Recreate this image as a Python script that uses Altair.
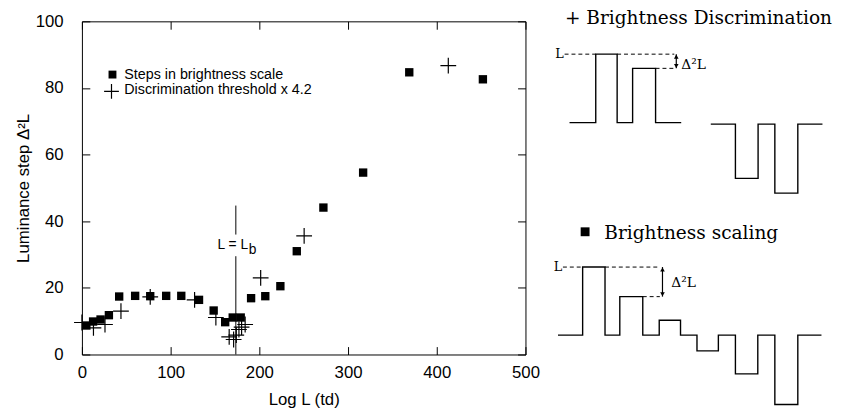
import altair as alt
import pandas as pd

# ---------------- main plot data ----------------
sq_x = [5, 12.6, 21, 30.4, 42, 60, 77, 95, 112, 132, 148.5, 161.5, 170, 179,
        190.7, 206.7, 223.7, 242.2, 272.2, 317, 369, 452]
sq_y = [8.7, 9.9, 10.5, 11.8, 17.4, 17.6, 17.5, 17.6, 17.6, 16.4, 13.2, 9.7,
        11.1, 11.1, 16.9, 17.5, 20.5, 31.0, 44.1, 54.6, 84.7, 82.6]

pl_x = [0, 13, 26, 44, 77, 127, 151, 166, 171, 174, 177, 180, 184, 201.5, 250.5, 413]
pl_y = [9.6, 8.0, 9.0, 13.0, 17.3, 16.4, 11.1, 5.3, 4.5, 5.8, 7.5, 8.2, 9.0, 23.0, 35.6, 86.7]

x_ticks = [0, 100, 200, 300, 400, 500]
y_ticks = [0, 20, 40, 60, 80, 100]

lb_x = 173.5                     # L = Lb marker position
lb_seg_start = [0, 36]
lb_seg_end = [29.5, 44.7]
lb_label_y = 32.8

legend_labels = ["Steps in brightness scale", "Discrimination threshold x 4.2"]

# ---------------- schematic data (right side) ----------------
# step waveforms: edges and levels (drawing units, y downward)
w1_u = [24.7, 51.3, 73, 88.7, 112, 138]
w1_v = [102.7, 33.3, 102.7, 47.7, 102.7, 102.7]
w2_u = [168, 193, 216, 233, 256.3, 281.3]
w2_v = [104.3, 159.3, 104.3, 174.3, 104.3, 104.3]
w3_u = [13, 38, 60.7, 75.7, 99, 115.7, 137.3, 154, 175.7, 193, 215.7, 233, 256.3, 280.3]
w3_v = [318.3, 249.3, 318.3, 279.3, 318.3, 303.3, 318.3, 334.3, 318.3, 357.7,
        318.3, 388.7, 318.3, 318.3]

dash_u = [19.7, 73, 112, 18, 60.7, 99]
dash_u2 = [51.3, 131, 131, 38, 116.3, 116.3]
dash_v = [33.3, 33.3, 47.7, 249.3, 249.3, 279.3]

arrow_u = [133, 119]
arrow_top = [33.3, 249.3]
arrow_bot = [47.7, 279.3]

L_label_u = [14.5, 13]
L_label_v = [33.3, 249.3]
d2L_u = [138, 128]
d2L_v = [48, 270]

titles = ["+ Brightness Discrimination", "Brightness scaling"]
title_u = [20, 60]
title_v = [3, 221]
key_square_u = [40.5]
key_square_v = [213.5]

FONT = "Liberation Sans"
SERIF = "DejaVu Serif"
W, H = 450, 338
RW, RH = 290, 338
PLUS = "M-1,0H1M0,-1V1"

xs = alt.Scale(domain=[0, 500], nice=False, zero=False)
ys = alt.Scale(domain=[0, 100], nice=False, zero=False)

squares = pd.DataFrame({"x": sq_x, "y": sq_y})
pluses = pd.DataFrame({"x": pl_x, "y": pl_y})

common_axis = dict(domain=False, grid=False, tickSize=8, offset=-8,
                   tickColor="black", tickWidth=1, labelFlush=False)

sq_layer = alt.Chart(squares).mark_square(size=72, color="black", opacity=1).encode(
    x=alt.X("x:Q", scale=xs, axis=alt.Axis(orient="bottom", values=x_ticks,
                                             title="Log L (td)", labelPadding=10,
                                             titlePadding=12, **common_axis)),
    y=alt.Y("y:Q", scale=ys, axis=alt.Axis(orient="left", values=y_ticks,
                                             title="Luminance step Δ²L",
                                             labelPadding=19, titlePadding=3,
                                             **common_axis)),
)

pl_layer = alt.Chart(pluses).mark_point(shape=PLUS, size=256, filled=False,
                                        color="black", strokeWidth=1.2, opacity=1).encode(
    x=alt.X("x:Q", scale=xs, axis=None),
    y=alt.Y("y:Q", scale=ys, axis=None),
)

vline = pd.DataFrame({"x": [lb_x] * len(lb_seg_start), "y": lb_seg_start, "y2": lb_seg_end})
rule_layer = alt.Chart(vline).mark_rule(color="black", strokeWidth=1).encode(
    x=alt.X("x:Q", scale=xs, axis=alt.Axis(orient="top", values=x_ticks, labels=False,
                                             title=None, **common_axis)),
    y=alt.Y("y:Q", scale=ys, axis=alt.Axis(orient="right", values=y_ticks, labels=False,
                                             title=None, **common_axis)),
    y2="y2:Q",
)

lb_df = pd.DataFrame({"x": [lb_x], "y": [lb_label_y], "t": ["L = L"], "s": ["b"]})
lb_text = alt.Chart(lb_df).mark_text(font=FONT, fontSize=14, align="center",
                                     baseline="middle", dx=-3, color="black").encode(
    x=alt.X("x:Q", scale=xs, axis=None), y=alt.Y("y:Q", scale=ys, axis=None), text="t:N")
lb_sub = alt.Chart(lb_df).mark_text(font=FONT, fontSize=14, align="left",
                                    baseline="middle", dx=13, dy=5, color="black").encode(
    x=alt.X("x:Q", scale=xs, axis=None), y=alt.Y("y:Q", scale=ys, axis=None), text="s:N")

leg1 = pd.DataFrame({"t": [legend_labels[0]]})
leg2 = pd.DataFrame({"t": [legend_labels[1]]})
leg_sq = alt.Chart(leg1).mark_square(size=64, color="black", opacity=1).encode(
    x=alt.value(31), y=alt.value(54))
leg_pl = alt.Chart(leg2).mark_point(shape=PLUS, size=225, filled=False, color="black",
                                    strokeWidth=1.2, opacity=1).encode(
    x=alt.value(30), y=alt.value(71))
leg_t1 = alt.Chart(leg1).mark_text(font=FONT, fontSize=14.5, align="left",
                                   baseline="middle", color="black").encode(
    x=alt.value(43), y=alt.value(54), text="t:N")
leg_t2 = alt.Chart(leg2).mark_text(font=FONT, fontSize=14.5, align="left",
                                   baseline="middle", color="black").encode(
    x=alt.value(43), y=alt.value(70), text="t:N")

left = alt.layer(sq_layer, pl_layer, rule_layer, lb_text, lb_sub,
                 leg_sq, leg_pl, leg_t1, leg_t2).resolve_axis(
    x="independent", y="independent").properties(width=W, height=H)

# ---------------- right schematic panel ----------------
rxs = alt.Scale(domain=[0, RW], nice=False, zero=False)
rys = alt.Scale(domain=[0, RH], nice=False, zero=False, reverse=True)

rows = []
for name, us, vs in (("w1", w1_u, w1_v), ("w2", w2_u, w2_v), ("w3", w3_u, w3_v)):
    for i, (u, v) in enumerate(zip(us, vs)):
        rows.append({"wave": name, "i": i, "u": u, "v": v})
waves = pd.DataFrame(rows)

wave_layer = alt.Chart(waves).mark_line(interpolate="step-after", color="black",
                                        strokeWidth=1.4).encode(
    x=alt.X("u:Q", scale=rxs, axis=None),
    y=alt.Y("v:Q", scale=rys, axis=None),
    detail="wave:N", order="i:Q")

dashes = pd.DataFrame({"u": dash_u, "u2": dash_u2, "v": dash_v})
dash_layer = alt.Chart(dashes).mark_rule(color="black", strokeWidth=1,
                                         strokeDash=[4, 3]).encode(
    x=alt.X("u:Q", scale=rxs, axis=None), x2="u2:Q",
    y=alt.Y("v:Q", scale=rys, axis=None))

arrows = pd.DataFrame({"u": arrow_u, "t": arrow_top, "b": arrow_bot})
arrow_layer = alt.Chart(arrows).mark_rule(color="black", strokeWidth=1.2).encode(
    x=alt.X("u:Q", scale=rxs, axis=None),
    y=alt.Y("t:Q", scale=rys, axis=None), y2="b:Q")
head_up = alt.Chart(arrows).mark_point(shape="triangle-up", size=22, filled=True,
                                       color="black", opacity=1, yOffset=2.5).encode(
    x=alt.X("u:Q", scale=rxs, axis=None), y=alt.Y("t:Q", scale=rys, axis=None))
head_dn = alt.Chart(arrows).mark_point(shape="triangle-down", size=22, filled=True,
                                       color="black", opacity=1, yOffset=-2.5).encode(
    x=alt.X("u:Q", scale=rxs, axis=None), y=alt.Y("b:Q", scale=rys, axis=None))

Ls = pd.DataFrame({"u": L_label_u, "v": L_label_v, "t": ["L", "L"]})
L_layer = alt.Chart(Ls).mark_text(font=SERIF, fontSize=13, align="center",
                                  baseline="middle", color="black").encode(
    x=alt.X("u:Q", scale=rxs, axis=None), y=alt.Y("v:Q", scale=rys, axis=None), text="t:N")

d2 = pd.DataFrame({"u": d2L_u, "v": d2L_v, "t": ["Δ²L", "Δ²L"]})
d2_layer = alt.Chart(d2).mark_text(font=SERIF, fontSize=14, align="left",
                                   baseline="alphabetic", color="black").encode(
    x=alt.X("u:Q", scale=rxs, axis=None), y=alt.Y("v:Q", scale=rys, axis=None), text="t:N")

tt = pd.DataFrame({"u": title_u, "v": title_v, "t": titles})
title_layer = alt.Chart(tt).mark_text(font=SERIF, fontSize=18.8, align="left",
                                      baseline="alphabetic", color="black").encode(
    x=alt.X("u:Q", scale=rxs, axis=None), y=alt.Y("v:Q", scale=rys, axis=None), text="t:N")

ks = pd.DataFrame({"u": key_square_u, "v": key_square_v})
key_layer = alt.Chart(ks).mark_square(size=81, color="black", opacity=1).encode(
    x=alt.X("u:Q", scale=rxs, axis=None), y=alt.Y("v:Q", scale=rys, axis=None))

right = alt.layer(wave_layer, dash_layer, arrow_layer, head_up, head_dn, L_layer,
                  d2_layer, title_layer, key_layer).properties(
    width=RW, height=RH, view=alt.ViewBackground(stroke="transparent"))

chart = alt.hconcat(left, right, spacing=20, bounds="flush").properties(
    padding={"left": 6, "top": -2.4, "right": 0, "bottom": 0}
).configure_view(stroke="black", strokeWidth=1).configure_axis(
    labelFont=FONT, titleFont=FONT, labelFontSize=17, titleFontSize=17,
    labelColor="black", titleColor="black", titleFontWeight="normal")

chart.save("out.html", embed_options={"renderer": "svg", "actions": False})
